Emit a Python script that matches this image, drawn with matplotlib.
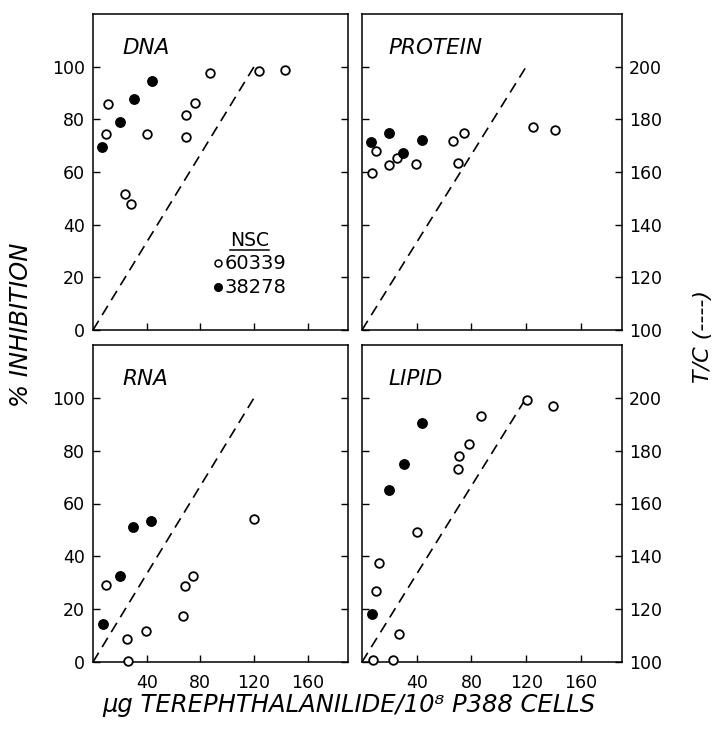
import matplotlib
matplotlib.use("Agg")
import matplotlib.pyplot as plt
from matplotlib.lines import Line2D

# Values (x: ug drug per 1e8 cells, y: % inhibition).
# Open circles = NSC 60339, filled circles = NSC 38278.
dna_open_x = [11, 10, 24, 28.5, 40, 69.5, 69.5, 76, 87.5, 124, 143]
dna_open_y = [85.7, 74.3, 51.6, 47.7, 74.6, 81.6, 73.4, 86.2, 97.7, 98.2, 98.6]
dna_fill_x = [6.5, 20, 30.8, 44]
dna_fill_y = [69.6, 78.9, 87.7, 94.7]

protein_open_x = [7.5, 10.2, 19.6, 25.7, 39.5, 66.2, 70.3, 74.9, 124.6, 141.3]
protein_open_y = [59.7, 67.8, 62.6, 65.5, 63.1, 71.6, 63.6, 74.7, 77, 76]
protein_fill_x = [6.3, 19.6, 30, 44]
protein_fill_y = [71.4, 75, 67.4, 72.2]

rna_open_x = [9.9, 25.3, 26.3, 39.5, 67.2, 68.7, 74.4, 119.6]
rna_open_y = [29.1, 8.8, 0.4, 11.6, 17.4, 28.6, 32.6, 54.3]
rna_fill_x = [7.2, 20.1, 30, 43.4]
rna_fill_y = [14.5, 32.5, 51.2, 53.2]

lipid_open_x = [7.8, 23, 26.9, 10.4, 12.6, 40.5, 70.5, 71, 78.3, 87.3, 120.5, 139.9]
lipid_open_y = [0.8, 0.8, 10.5, 26.8, 37.4, 49.2, 73.2, 77.9, 82.7, 93.2, 99.2, 96.8]
lipid_fill_x = [7.3, 19.4, 31, 44.1]
lipid_fill_y = [18.2, 65, 75.1, 90.3]

# T/C reference line (dashed)
tc_x = [0, 120]
tc_y = [0, 100]

panel_names = ["DNA", "PROTEIN", "RNA", "LIPID"]
x_ticks = [40, 80, 120, 160]
y_ticks = [0, 20, 40, 60, 80, 100]
tc_labels = ["100", "120", "140", "160", "180", "200"]
legend_title = "NSC"
legend_labels = ["60339", "38278"]

panels = {
    "DNA": (dna_open_x, dna_open_y, dna_fill_x, dna_fill_y),
    "PROTEIN": (protein_open_x, protein_open_y, protein_fill_x, protein_fill_y),
    "RNA": (rna_open_x, rna_open_y, rna_fill_x, rna_fill_y),
    "LIPID": (lipid_open_x, lipid_open_y, lipid_fill_x, lipid_fill_y),
}

plt.rcParams["font.family"] = ["DejaVu Sans"]

fig = plt.figure(figsize=(7.12, 7.4), dpi=100)

W, H = 712.0, 740.0
# pixel boxes (left, right, top, bottom)
boxes = {
    "DNA": (93, 348, 14, 330),
    "PROTEIN": (362, 622, 14, 330),
    "RNA": (93, 348, 345, 662),
    "LIPID": (362, 622, 345, 662),
}

axes = {}
for name in panel_names:
    l, r, t, b = boxes[name]
    ax = fig.add_axes([l / W, 1 - b / H, (r - l) / W, (b - t) / H])
    axes[name] = ax
    ox, oy, fx, fy = panels[name]

    ax.plot(tc_x, tc_y, color="black", linestyle=(0, (6.5, 4)), linewidth=1.2)
    ax.plot(ox, oy, "o", markersize=6.2, markerfacecolor="white",
            markeredgecolor="black", markeredgewidth=1.3, clip_on=False, zorder=3)
    ax.plot(fx, fy, "o", markersize=6.8, color="black", clip_on=False, zorder=3)

    ax.set_xlim(0, 190)
    ax.set_ylim(0, 120)
    ax.set_xticks(x_ticks)
    ax.set_yticks(y_ticks)
    for sp in ax.spines.values():
        sp.set_linewidth(1.1)

    ax.tick_params(direction="in", length=5, width=1.0, labelsize=12.5,
                   left=True, right=True, top=False, bottom=True)
    ax.tick_params(axis="x", pad=9)

    if name in ("DNA", "RNA"):
        ax.tick_params(axis="y", labelleft=True, labelright=False, pad=6)
    else:
        ax.set_yticklabels(tc_labels)
        ax.tick_params(axis="y", labelleft=False, labelright=True, pad=5)

    if name in ("DNA", "PROTEIN"):
        ax.tick_params(axis="x", labelbottom=False)

    tx = 0.114 if name in ("DNA", "RNA") else 0.10
    ax.text(tx, 0.875, name, transform=ax.transAxes, fontsize=15.5,
            fontstyle="italic", va="baseline", ha="left")

# legend in DNA panel
ax = axes["DNA"]
handles = [
    Line2D([0], [0], marker="o", linestyle="none", markersize=5,
           markerfacecolor="white", markeredgecolor="black", markeredgewidth=1.1),
    Line2D([0], [0], marker="o", linestyle="none", markersize=5.5,
           color="black"),
]
leg = ax.legend(handles, legend_labels, title=legend_title, loc="center",
                bbox_to_anchor=(0.615, 0.209), frameon=False, fontsize=14,
                title_fontsize=13.5, handlelength=0.5, handletextpad=0.1,
                labelspacing=0.25, borderpad=0.0)

fig.canvas.draw()
bb = leg.get_title().get_window_extent()
inv = fig.transFigure.inverted()
(x0, y0), (x1, y1) = inv.transform([(bb.x0, bb.y0), (bb.x1, bb.y1)])
fig.add_artist(Line2D([x0, x1], [y0 - 0.001, y0 - 0.001],
                      transform=fig.transFigure, color="black", linewidth=1.1))

fig.text(0.49, 0.047, "μg TEREPHTHALANILIDE/10⁸ P388 CELLS", ha="center",
         va="center", fontsize=17.5, fontstyle="italic")
fig.text(0.03, 0.561, "% INHIBITION", ha="center", va="center", rotation=90,
         fontsize=17.5, fontstyle="italic")
fig.text(0.987, 0.545, "T/C (----)", ha="center", va="center", rotation=90,
         fontsize=16, fontstyle="italic")

fig.savefig("out.png", dpi=100)
